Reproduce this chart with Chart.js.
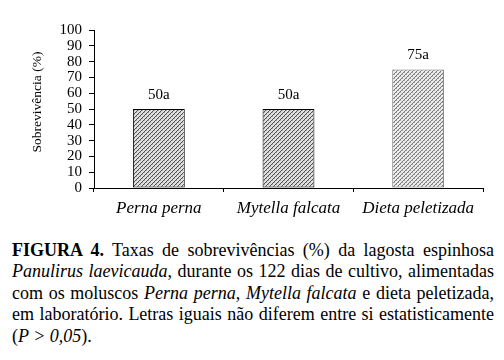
<!DOCTYPE html>
<html><head><meta charset="utf-8">
<script src="https://cdn.jsdelivr.net/npm/chart.js@4/dist/chart.umd.min.js"></script>
<style>
html,body{margin:0;padding:0;background:#fff;}
#wrap{position:relative;width:504px;height:360px;overflow:hidden;}
#c{position:absolute;left:0;top:0;}
#cap{position:absolute;left:12px;top:240px;width:482px;font-family:"Liberation Serif","Times New Roman",serif;font-size:18px;line-height:21.4px;text-align:justify;color:#000;}
</style></head>
<body><div id="wrap"><canvas id="c" width="504" height="240"></canvas>
<div id="cap"><b>FIGURA 4.</b> Taxas de sobrevivências (%) da lagosta espinhosa <i>Panulirus laevicauda</i>, durante os 122 dias de cultivo, alimentadas com os moluscos <i>Perna perna</i>, <i>Mytella falcata</i> e dieta peletizada, em laboratório. Letras iguais não diferem entre si estatisticamente (<i>P &gt; 0,05</i>).</div></div>
<script>
const categories = ["Perna perna", "Mytella falcata", "Dieta peletizada"];
const survival = [50, 50, 75];
const letters = ["50a", "50a", "75a"];
const yTicks = [0,10,20,30,40,50,60,70,80,90,100];

function makePattern(light){
  const p = document.createElement('canvas');
  p.width = 4; p.height = 4;
  const g = p.getContext('2d');
  g.fillStyle = light ? '#ececec' : '#e2e2e2';
  g.fillRect(0,0,4,4);
  g.fillStyle = '#a8a8a8';
  g.fillRect(0,0,1,1); g.fillRect(2,2,1,1);
  g.strokeStyle = light ? '#6a6a6a' : '#3a3a3a';
  g.lineWidth = 0.9;
  g.beginPath(); g.moveTo(-1,5); g.lineTo(5,-1); g.stroke();
  return document.getElementById('c').getContext('2d').createPattern(p,'repeat');
}

const labelPlugin = {
  id:'labels',
  afterDatasetsDraw(chart){
    const ctx = chart.ctx;
    const meta = chart.getDatasetMeta(0);
    ctx.save();
    ctx.font = '15px "Liberation Serif", serif';
    ctx.fillStyle = '#000';
    ctx.textAlign = 'center';
    ctx.textBaseline = 'middle';
    meta.data.forEach((el,i)=>{ ctx.fillText(letters[i], el.x, el.y - 14); });
    ctx.restore();
    ctx.save();
    ctx.translate(37, 102);
    ctx.rotate(-Math.PI/2);
    ctx.font = '13.5px "Liberation Serif", serif';
    ctx.textAlign = 'center';
    ctx.textBaseline = 'middle';
    ctx.fillStyle = '#000';
    ctx.fillText('Sobrevivência (%)', 0, 0);
    ctx.restore();
  }
};

new Chart(document.getElementById('c'), {
  type:'bar',
  data:{
    labels: categories,
    datasets:[{
      data: survival,
      backgroundColor:[makePattern(false), makePattern(false), makePattern(true)],
      borderColor:['#000','#000','#777'],
      borderWidth:1,
      borderSkipped:false,
      categoryPercentage:1,
      barPercentage:0.4
    }]
  },
  options:{
    responsive:false,
    animation:false,
    events:[],
    layout:{padding:{left:0,right:21,top:30,bottom:0}},
    plugins:{legend:{display:false},tooltip:{enabled:false}},
    scales:{
      x:{
        grid:{display:true,drawOnChartArea:false,drawTicks:true,tickLength:4,color:'#000',offset:true},
        border:{display:true,color:'#000',width:1},
        ticks:{font:{family:'"Liberation Serif", serif',size:17,style:'italic'},color:'#000',padding:6,maxRotation:0,autoSkip:false},
        afterFit(s){ s.height = 52; }
      },
      y:{
        min:0,max:100,
        afterBuildTicks(s){ s.ticks = yTicks.map(v=>({value:v})); },
        grid:{display:true,drawOnChartArea:false,drawTicks:true,tickLength:5,color:'#000'},
        border:{display:true,color:'#000',width:1},
        ticks:{font:{family:'"Liberation Serif", serif',size:15},color:'#000',padding:7,autoSkip:false},
        afterFit(s){ s.width = 94; }
      }
    }
  },
  plugins:[labelPlugin]
});
</script></body></html>
